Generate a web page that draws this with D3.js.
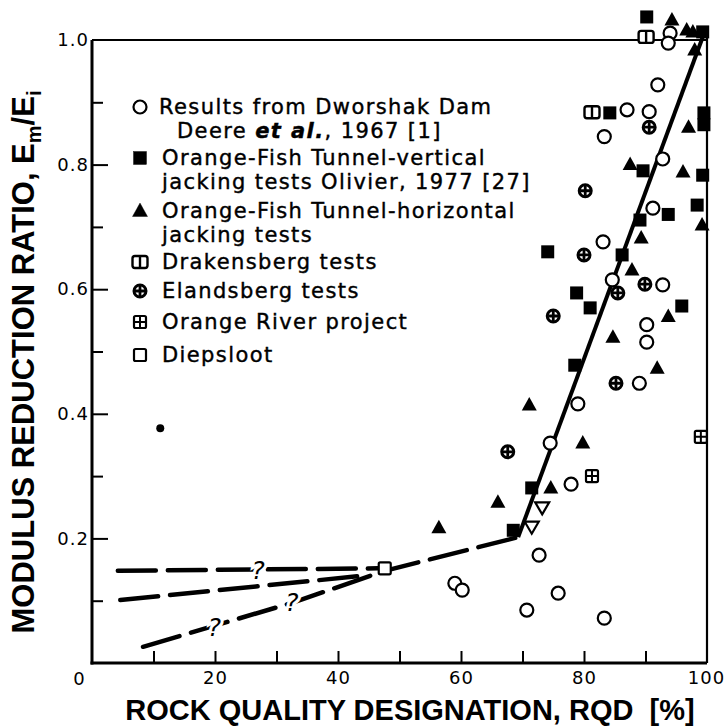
<!DOCTYPE html>
<html>
<head>
<meta charset="utf-8">
<script src="https://cdn.jsdelivr.net/npm/d3@7"></script>
<style>
  body { margin: 0; background: #fff; }
  svg { display: block; }
  .tick text { font-family: "DejaVu Sans", sans-serif; font-size: 18px; letter-spacing: 1px; fill: #000; }
</style>
</head>
<body>
<svg id="chart" width="724" height="727"></svg>
<script>
// ---------------- data ----------------
// RQD (%) and modulus reduction ratio Em/Ei for each data set
const dworshak = [
  [92.0, 0.928], [87.0, 0.888], [90.6, 0.885], [83.3, 0.845], [92.8, 0.809],
  [91.2, 0.730], [83.1, 0.676], [84.6, 0.615], [92.8, 0.607], [90.2, 0.543],
  [90.2, 0.515], [89.0, 0.449], [79.0, 0.416], [74.5, 0.353], [77.9, 0.287],
  [72.7, 0.173], [59.0, 0.128], [60.2, 0.117], [75.8, 0.112], [70.7, 0.085],
  [83.3, 0.072], [94.0, 1.011], [93.7, 0.995]
];
const orangeFishVertical = [
  [90.2, 1.037], [99.3, 1.013], [84.2, 0.883], [99.5, 0.883], [99.5, 0.864],
  [89.6, 0.790], [99.3, 0.783], [98.4, 0.735], [93.7, 0.720], [89.1, 0.711],
  [74.1, 0.660], [86.2, 0.655], [78.8, 0.594], [81.0, 0.570], [95.9, 0.573],
  [78.5, 0.478], [71.5, 0.281], [68.5, 0.213]
];
const orangeFishHorizontal = [
  [94.3, 1.032], [96.7, 1.016], [97.7, 1.013], [98.0, 0.984], [97.0, 0.860],
  [87.5, 0.800], [96.1, 0.788], [99.2, 0.703], [89.3, 0.682], [87.8, 0.631],
  [93.7, 0.556], [84.7, 0.523], [91.9, 0.473], [71.1, 0.414], [79.8, 0.353],
  [74.6, 0.281], [66.0, 0.258], [56.4, 0.217]
];
const drakensberg = [[90.1, 1.005], [81.3, 0.884]];
const elandsberg = [
  [90.6, 0.860], [80.2, 0.758], [80.0, 0.655], [85.5, 0.594], [89.9, 0.608],
  [75.0, 0.557], [85.2, 0.449], [67.6, 0.339]
];
const orangeRiver = [[81.3, 0.300], [99.0, 0.363]];
const diepsloot = [[47.6, 0.152]];
const openInvertedTriangles = [[73.2, 0.249], [71.5, 0.218]];
const isolatedPoint = [[11.1, 0.377]];

// trend lines
const trendSolid = [[69.3, 0.202], [99.5, 1.01]];
const trendDashedUpper = [[4.2, 0.148], [46.5, 0.152]];
const trendDashedMiddle = [[4.6, 0.101], [45.0, 0.141]];
const trendDashedLower = [[8.3, 0.026], [33.0, 0.098], [47.6, 0.148], [69.3, 0.202]];
const questionMarks = [[27.0, 0.150], [32.5, 0.098], [19.9, 0.058]];

// axes
const xMinorTicks = [10, 20, 30, 40, 50, 60, 70, 80, 90];
const xLabelTicks = [20, 40, 60, 80, 100];
const yMinorTicks = [0.1, 0.3, 0.5, 0.7, 0.9];
const yMajorTicks = [0.2, 0.4, 0.6, 0.8, 1.0];
const originLabel = "0";
const xTitle = "ROCK QUALITY DESIGNATION, RQD  [%]";
const yTitle = ["MODULUS REDUCTION RATIO, E", "m", "/E", "i"];

// legend
const legendMarkers = ["circle", "square", "triangle", "drakensberg", "elandsberg", "orangeRiver", "openSquare"];
const legendLines = [
  ["Results  from  Dworshak  Dam", "Deere et al., 1967 [1]"],
  ["Orange-Fish  Tunnel-vertical", "jacking  tests  Olivier, 1977 [27]"],
  ["Orange-Fish  Tunnel-horizontal", "jacking  tests"],
  ["Drakensberg  tests"],
  ["Elandsberg   tests"],
  ["Orange  River  project"],
  ["Diepsloot"]
];

// ---------------- layout ----------------
const svg = d3.select("#chart");
const x = d3.scaleLinear().domain([0, 100]).range([92, 707]);
const y = d3.scaleLinear().domain([0, 1]).range([663, 40]);

// ---------------- markers ----------------
function marker(g, type) {
  const s = 6.5;
  switch (type) {
    case "circle":
      g.append("circle").attr("r", s).attr("fill", "#fff").attr("stroke", "#000").attr("stroke-width", 2.2);
      break;
    case "square":
      g.append("rect").attr("x", -s).attr("y", -s).attr("width", 2 * s).attr("height", 2 * s).attr("fill", "#000");
      break;
    case "triangle":
      g.append("path").attr("d", "M0,-8L7.5,5.5L-7.5,5.5Z").attr("fill", "#000");
      break;
    case "invTriangle":
      g.append("path").attr("d", "M0,6.5L7,-5.5L-7,-5.5Z").attr("fill", "#fff").attr("stroke", "#000").attr("stroke-width", 2.2);
      break;
    case "drakensberg":
      g.append("rect").attr("x", -7.5).attr("y", -6).attr("width", 15).attr("height", 12).attr("rx", 2.5)
        .attr("fill", "#fff").attr("stroke", "#000").attr("stroke-width", 2.4);
      g.append("line").attr("x1", 0).attr("x2", 0).attr("y1", -6).attr("y2", 6).attr("stroke", "#000").attr("stroke-width", 2.4);
      break;
    case "elandsberg":
      g.append("circle").attr("r", 6).attr("fill", "#fff").attr("stroke", "#000").attr("stroke-width", 3);
      g.append("path").attr("d", "M-5,0H5M0,-5V5").attr("stroke", "#000").attr("stroke-width", 2.8);
      break;
    case "orangeRiver":
      g.append("rect").attr("x", -6).attr("y", -6).attr("width", 12).attr("height", 12).attr("rx", 1.5)
        .attr("fill", "#fff").attr("stroke", "#000").attr("stroke-width", 2.2);
      g.append("path").attr("d", "M-6,0H6M0,-6V6").attr("stroke", "#000").attr("stroke-width", 2);
      break;
    case "openSquare":
      g.append("rect").attr("x", -6).attr("y", -6).attr("width", 12).attr("height", 12).attr("rx", 1.5)
        .attr("fill", "#fff").attr("stroke", "#000").attr("stroke-width", 2.2);
      break;
    case "dot":
      g.append("circle").attr("r", 4).attr("fill", "#000");
      break;
  }
}

// ---------------- frame & axes ----------------
const frame = svg.append("g");
frame.append("line").attr("x1", x(0)).attr("x2", x(100)).attr("y1", y(1)).attr("y2", y(1))
  .attr("stroke", "#000").attr("stroke-width", 2.2);
frame.append("line").attr("x1", x(100)).attr("x2", x(100)).attr("y1", y(1.02)).attr("y2", y(0))
  .attr("stroke", "#000").attr("stroke-width", 2.2);

function styleAxis(g) {
  g.select(".domain").remove();
  g.selectAll(".tick line").attr("stroke", "#000").attr("stroke-width", 2);
}

// y axis: minor and major inward ticks
svg.append("g").attr("transform", `translate(${x(0)},0)`)
  .call(d3.axisLeft(y).tickValues(yMinorTicks).tickSize(-11).tickFormat(""))
  .call(styleAxis);
svg.append("g").attr("transform", `translate(${x(0)},0)`)
  .call(d3.axisLeft(y).tickValues(yMajorTicks).tickSize(-16).tickPadding(3).tickFormat(d3.format(".1f")))
  .call(styleAxis)
  .call(g => g.selectAll(".tick").filter(d => d === 1).select("line").remove());

// x axis: inward ticks, labels every 20
svg.append("g").attr("transform", `translate(0,${y(0)})`)
  .call(d3.axisBottom(x).tickValues(xMinorTicks).tickSize(-12).tickFormat(""))
  .call(styleAxis);
svg.append("g").attr("transform", `translate(0,${y(0)})`)
  .call(d3.axisBottom(x).tickValues(xLabelTicks).tickSize(0).tickPadding(8).tickFormat(d3.format("d")))
  .call(styleAxis)
  .call(g => g.selectAll(".tick").filter(d => d === 100).select("text").attr("dx", -1));

// heavy axis lines
svg.append("line").attr("x1", x(0)).attr("x2", x(0)).attr("y1", y(1)).attr("y2", y(0) + 1.5)
  .attr("stroke", "#000").attr("stroke-width", 3);
svg.append("line").attr("x1", x(0) - 1.5).attr("x2", x(100)).attr("y1", y(0)).attr("y2", y(0))
  .attr("stroke", "#000").attr("stroke-width", 3);

svg.append("text").attr("x", x(0) - 13).attr("y", y(0) + 22)
  .attr("text-anchor", "middle")
  .style("font-family", "DejaVu Sans, sans-serif").style("font-size", "18px")
  .text(originLabel);

// axis titles
svg.append("text")
  .attr("x", 410).attr("y", 720)
  .attr("text-anchor", "middle")
  .style("font-family", "Liberation Sans, Arial, sans-serif")
  .style("font-weight", "bold").style("font-size", "29px").style("white-space", "pre")
  .text(xTitle);

const yt = svg.append("text")
  .attr("transform", "translate(34,362) rotate(-90)")
  .attr("text-anchor", "middle")
  .style("font-family", "Liberation Sans, Arial, sans-serif")
  .style("font-weight", "bold").style("font-size", "31px");
yt.append("tspan").text(yTitle[0]);
yt.append("tspan").text(yTitle[1]).style("font-size", "20px").attr("dy", 7);
yt.append("tspan").text(yTitle[2]).attr("dy", -7);
yt.append("tspan").text(yTitle[3]).style("font-size", "20px").attr("dy", 7);

// ---------------- trend lines ----------------
const line = d3.line().x(d => x(d[0])).y(d => y(d[1]));
const lines = svg.append("g").attr("fill", "none").attr("stroke", "#000");
lines.append("path").attr("d", line(trendSolid)).attr("stroke-width", 4);
[trendDashedUpper, trendDashedMiddle, trendDashedLower].forEach(pts => {
  lines.append("path").attr("d", line(pts))
    .attr("stroke-width", 4.5).attr("stroke-dasharray", "38,12").attr("stroke-linecap", "round");
});
svg.append("g").selectAll("text").data(questionMarks).join("text")
  .attr("x", d => x(d[0])).attr("y", d => y(d[1]))
  .attr("text-anchor", "middle").attr("dy", "0.36em")
  .style("font-family", "DejaVu Sans, sans-serif").style("font-style", "italic").style("font-size", "25px")
  .attr("stroke", "#fff").attr("stroke-width", 6).style("paint-order", "stroke")
  .text("?");

// ---------------- points ----------------
const series = [
  [dworshak, "circle"], [orangeFishVertical, "square"], [orangeFishHorizontal, "triangle"],
  [drakensberg, "drakensberg"], [elandsberg, "elandsberg"], [orangeRiver, "orangeRiver"],
  [diepsloot, "openSquare"], [openInvertedTriangles, "invTriangle"], [isolatedPoint, "dot"]
];
const pts = svg.append("g");
series.forEach(([data, type]) => {
  pts.append("g").selectAll("g").data(data).join("g")
    .attr("transform", d => `translate(${x(d[0])},${y(d[1])})`)
    .each(function () { marker(d3.select(this), type); });
});

// ---------------- legend ----------------
const rowY = [106, 157, 210, 261, 290, 321, 354];
const legend = svg.append("g")
  .style("font-family", "DejaVu Sans, sans-serif").style("font-size", "21px")
  .style("letter-spacing", "1.4px").style("white-space", "pre")
  .attr("stroke", "#000").attr("stroke-width", 0.4);
legendLines.forEach((lines, i) => {
  const mg = legend.append("g").attr("transform", `translate(140,${rowY[i] + 1})`);
  marker(mg, legendMarkers[i]);
  lines.forEach((txt, j) => {
    const t = legend.append("text")
      .attr("x", i === 0 ? (j === 0 ? 159 : 177) : 162)
      .attr("y", rowY[i] + j * 24).attr("dy", "0.36em");
    const parts = txt.split("et al.");
    if (parts.length > 1) {
      t.append("tspan").text(parts[0]);
      t.append("tspan").text("et al.").style("font-style", "italic").style("font-weight", "bold");
      t.append("tspan").text(parts[1]);
    } else {
      t.text(txt);
    }
  });
});
</script>
</body>
</html>
